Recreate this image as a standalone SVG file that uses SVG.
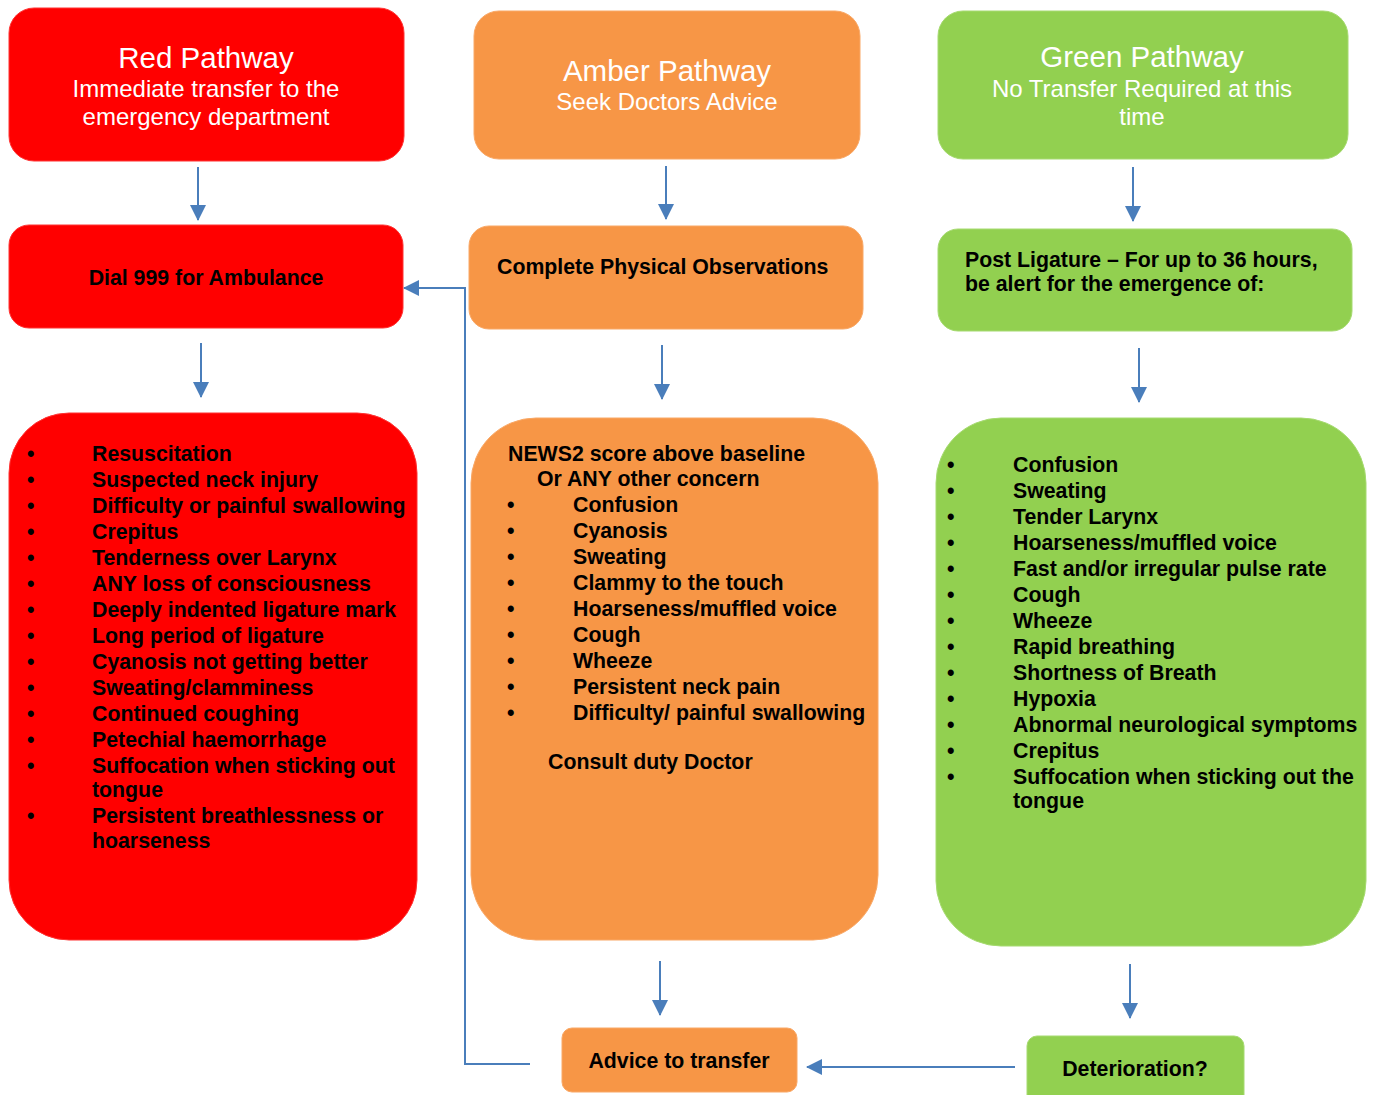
<svg xmlns="http://www.w3.org/2000/svg" width="1374" height="1095" viewBox="0 0 1374 1095">
<defs>
<marker id="arr" viewBox="0 0 16 16" refX="15" refY="8" markerWidth="16" markerHeight="16" markerUnits="userSpaceOnUse" orient="auto">
<path d="M0,0 L16,8 L0,16 z" fill="#4A7EBB"/>
</marker>
<style>
.red{fill:#FF0000;stroke:#FF3333;stroke-width:1}
.amb{fill:#F79646;stroke:#F9A866;stroke-width:1}
.grn{fill:#92D050;stroke:#A6DA70;stroke-width:1}
.hd{font-family:"Liberation Sans",Arial,sans-serif;fill:#fff;text-anchor:middle}
.t1{font-size:29.5px}
.t2{font-size:24px}
.b{font-family:"Liberation Sans",Arial,sans-serif;font-weight:bold;font-size:21.3px;fill:#000}
.c{text-anchor:middle}
.con{fill:none;stroke:#4A7EBB;stroke-width:2}
</style>
</defs>
<rect width="1374" height="1095" fill="#fff"/>

<g id="connectors">
<line class="con" x1="198" y1="167" x2="198" y2="220" marker-end="url(#arr)"/>
<line class="con" x1="201" y1="343" x2="201" y2="397" marker-end="url(#arr)"/>
<line class="con" x1="666" y1="166" x2="666" y2="219" marker-end="url(#arr)"/>
<line class="con" x1="662" y1="345" x2="662" y2="399" marker-end="url(#arr)"/>
<line class="con" x1="660" y1="961" x2="660" y2="1015" marker-end="url(#arr)"/>
<line class="con" x1="1133" y1="167" x2="1133" y2="221" marker-end="url(#arr)"/>
<line class="con" x1="1139" y1="348" x2="1139" y2="402" marker-end="url(#arr)"/>
<line class="con" x1="1130" y1="964" x2="1130" y2="1018" marker-end="url(#arr)"/>
<polyline class="con" points="530,1064 465,1064 465,288 404,288" marker-end="url(#arr)"/>
<line class="con" x1="1015" y1="1067" x2="807" y2="1067" marker-end="url(#arr)"/>
</g>

<g id="red-pathway">
<rect class="red" x="9" y="8" width="395" height="153" rx="25"/>
<text class="hd t1" x="206" y="68">Red Pathway</text>
<text class="hd t2" x="206" y="97">Immediate transfer to the</text>
<text class="hd t2" x="206" y="125">emergency department</text>
</g>

<g id="amber-pathway">
<rect class="amb" x="474" y="11" width="386" height="148" rx="25"/>
<text class="hd t1" x="667" y="81">Amber Pathway</text>
<text class="hd t2" x="667" y="110">Seek Doctors Advice</text>
</g>

<g id="green-pathway">
<rect class="grn" x="938" y="11" width="410" height="148" rx="25"/>
<text class="hd t1" x="1142" y="67">Green Pathway</text>
<text class="hd t2" x="1142" y="97">No Transfer Required at this</text>
<text class="hd t2" x="1142" y="125">time</text>
</g>

<g id="dial-999">
<rect class="red" x="9" y="225" width="394" height="103" rx="20"/>
<text class="b c" x="206" y="285">Dial 999 for Ambulance</text>
</g>

<g id="complete-obs">
<rect class="amb" x="469" y="226" width="394" height="103" rx="20"/>
<text class="b" x="497" y="274">Complete Physical Observations</text>
</g>

<g id="post-ligature">
<rect class="grn" x="938" y="229" width="414" height="102" rx="20"/>
<text class="b" x="965" y="267">Post Ligature – For up to 36 hours,</text>
<text class="b" x="965" y="291">be alert for the emergence of:</text>
</g>

<g id="red-list">
<rect class="red" x="9" y="413" width="408" height="527" rx="60"/>
<g class="b">
<text x="27" y="461">•</text><text x="92" y="461">Resuscitation</text>
<text x="27" y="487">•</text><text x="92" y="487">Suspected neck injury</text>
<text x="27" y="513">•</text><text x="92" y="513">Difficulty or painful swallowing</text>
<text x="27" y="539">•</text><text x="92" y="539">Crepitus</text>
<text x="27" y="565">•</text><text x="92" y="565">Tenderness over Larynx</text>
<text x="27" y="591">•</text><text x="92" y="591">ANY loss of consciousness</text>
<text x="27" y="617">•</text><text x="92" y="617">Deeply indented ligature mark</text>
<text x="27" y="643">•</text><text x="92" y="643">Long period of ligature</text>
<text x="27" y="669">•</text><text x="92" y="669">Cyanosis not getting better</text>
<text x="27" y="695">•</text><text x="92" y="695">Sweating/clamminess</text>
<text x="27" y="721">•</text><text x="92" y="721">Continued coughing</text>
<text x="27" y="747">•</text><text x="92" y="747">Petechial haemorrhage</text>
<text x="27" y="773">•</text><text x="92" y="773">Suffocation when sticking out</text>
<text x="92" y="797">tongue</text>
<text x="27" y="823">•</text><text x="92" y="823">Persistent breathlessness or</text>
<text x="92" y="848">hoarseness</text>
</g>
</g>

<g id="amber-list">
<rect class="amb" x="471" y="418" width="407" height="522" rx="65"/>
<g class="b">
<text x="508" y="461">NEWS2 score above baseline</text>
<text x="537" y="486">Or ANY other concern</text>
<text x="507" y="512">•</text><text x="573" y="512">Confusion</text>
<text x="507" y="538">•</text><text x="573" y="538">Cyanosis</text>
<text x="507" y="564">•</text><text x="573" y="564">Sweating</text>
<text x="507" y="590">•</text><text x="573" y="590">Clammy to the touch</text>
<text x="507" y="616">•</text><text x="573" y="616">Hoarseness/muffled voice</text>
<text x="507" y="642">•</text><text x="573" y="642">Cough</text>
<text x="507" y="668">•</text><text x="573" y="668">Wheeze</text>
<text x="507" y="694">•</text><text x="573" y="694">Persistent neck pain</text>
<text x="507" y="720">•</text><text x="573" y="720">Difficulty/ painful swallowing</text>
<text x="548" y="769">Consult duty Doctor</text>
</g>
</g>

<g id="green-list">
<rect class="grn" x="936" y="418" width="430" height="528" rx="65"/>
<g class="b">
<text x="947" y="472">•</text><text x="1013" y="472">Confusion</text>
<text x="947" y="498">•</text><text x="1013" y="498">Sweating</text>
<text x="947" y="524">•</text><text x="1013" y="524">Tender Larynx</text>
<text x="947" y="550">•</text><text x="1013" y="550">Hoarseness/muffled voice</text>
<text x="947" y="576">•</text><text x="1013" y="576">Fast and/or irregular pulse rate</text>
<text x="947" y="602">•</text><text x="1013" y="602">Cough</text>
<text x="947" y="628">•</text><text x="1013" y="628">Wheeze</text>
<text x="947" y="654">•</text><text x="1013" y="654">Rapid breathing</text>
<text x="947" y="680">•</text><text x="1013" y="680">Shortness of Breath</text>
<text x="947" y="706">•</text><text x="1013" y="706">Hypoxia</text>
<text x="947" y="732">•</text><text x="1013" y="732">Abnormal neurological symptoms</text>
<text x="947" y="758">•</text><text x="1013" y="758">Crepitus</text>
<text x="947" y="784">•</text><text x="1013" y="784">Suffocation when sticking out the</text>
<text x="1013" y="808">tongue</text>
</g>
</g>

<g id="advice-to-transfer">
<rect class="amb" x="562" y="1028" width="235" height="64" rx="10"/>
<text class="b c" x="679" y="1068">Advice to transfer</text>
</g>

<g id="deterioration">
<rect class="grn" x="1027" y="1036" width="217" height="70" rx="10"/>
<text class="b c" x="1135" y="1076">Deterioration?</text>
</g>
</svg>
